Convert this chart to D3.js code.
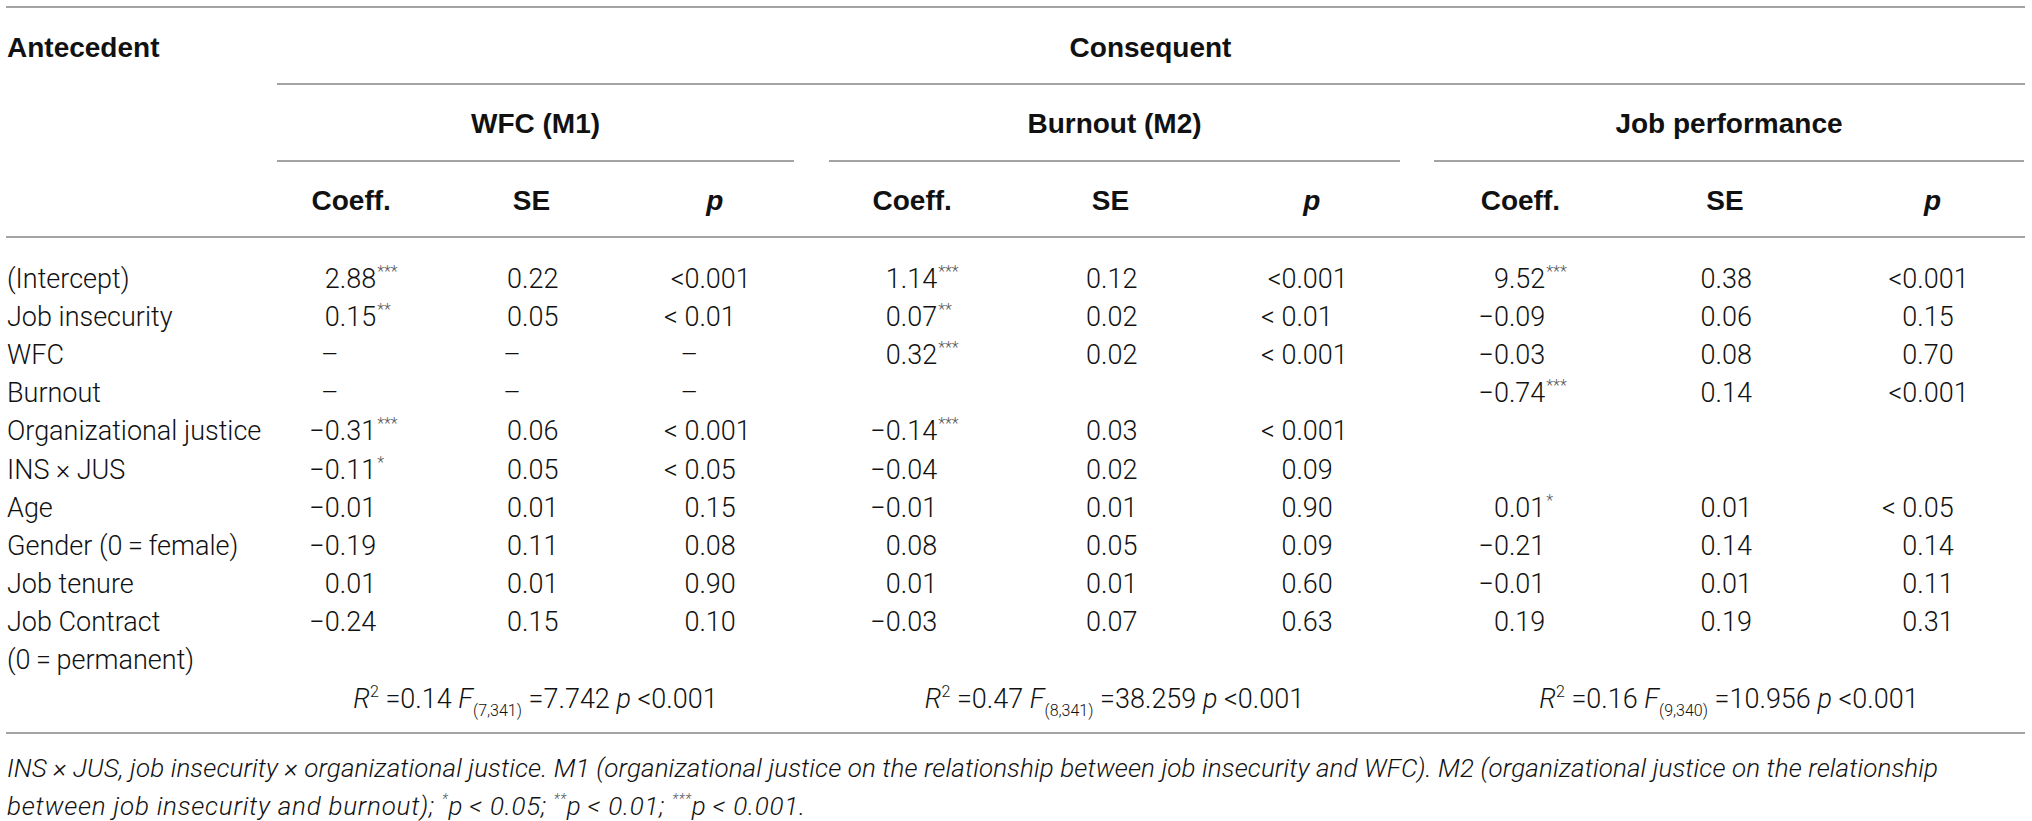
<!DOCTYPE html>
<html>
<head>
<meta charset="utf-8">
<script src="https://cdn.jsdelivr.net/npm/d3@7"></script>
<style>
  html, body { margin: 0; padding: 0; background: #fff; }
  svg text { fill: #111; }
  .body { font-family: Roboto, "Liberation Sans", sans-serif; font-weight: 300; font-size: 27px; }
  .head { font-family: "Liberation Sans", Arial, sans-serif; font-weight: bold; font-size: 28px; }
  .note { font-family: Roboto, "Liberation Sans", sans-serif; font-weight: 300; font-style: italic; font-size: 26px; }
</style>
</head>
<body>
<div id="chart"></div>
<script>

// table content
var antecedents = ["(Intercept)", "Job insecurity", "WFC", "Burnout", "Organizational justice",
	"INS \u00d7 JUS", "Age", "Gender (0\u2009=\u2009female)", "Job tenure", "Job Contract"];
var antecedentExtra = "(0\u2009=\u2009permanent)";

var models = ["WFC (M1)", "Burnout (M2)", "Job performance"];
var subHeads = ["Coeff.", "SE", "p"];

var wfcCoeff = ["2.88", "0.15", "\u2013", "\u2013", "\u22120.31", "\u22120.11", "\u22120.01", "\u22120.19", "0.01", "\u22120.24"];
var wfcStars = [3, 2, 0, 0, 3, 1, 0, 0, 0, 0];
var wfcSE    = ["0.22", "0.05", "\u2013", "\u2013", "0.06", "0.05", "0.01", "0.11", "0.01", "0.15"];
var wfcP     = ["<0.001", "< 0.01", "\u2013", "\u2013", "< 0.001", "< 0.05", "0.15", "0.08", "0.90", "0.10"];

var burnCoeff = ["1.14", "0.07", "0.32", "", "\u22120.14", "\u22120.04", "\u22120.01", "0.08", "0.01", "\u22120.03"];
var burnStars = [3, 2, 3, 0, 3, 0, 0, 0, 0, 0];
var burnSE    = ["0.12", "0.02", "0.02", "", "0.03", "0.02", "0.01", "0.05", "0.01", "0.07"];
var burnP     = ["<0.001", "< 0.01", "< 0.001", "", "< 0.001", "0.09", "0.90", "0.09", "0.60", "0.63"];

var jobCoeff = ["9.52", "\u22120.09", "\u22120.03", "\u22120.74", "", "", "0.01", "\u22120.21", "\u22120.01", "0.19"];
var jobStars = [3, 0, 0, 3, 0, 0, 1, 0, 0, 0];
var jobSE    = ["0.38", "0.06", "0.08", "0.14", "", "", "0.01", "0.14", "0.01", "0.19"];
var jobP     = ["<0.001", "0.15", "0.70", "<0.001", "", "", "< 0.05", "0.14", "0.11", "0.31"];

var r2Vals = ["0.14", "0.47", "0.16"];
var fDf    = ["7,341", "8,341", "9,340"];
var fVals  = ["7.742", "38.259", "10.956"];

var noteLine1 = "INS \u00d7 JUS, job insecurity \u00d7 organizational justice. M1 (organizational justice on the relationship between job insecurity and WFC). M2 (organizational justice on the relationship";
var noteLine2 = [["", "between job insecurity and burnout); "], ["*", "p\u2009< 0.05;  "], ["**", "p\u2009< 0.01;  "], ["***", "p\u2009< 0.001."]];


var width = 2032, height = 821;
var left = 6, right = 2025;

var svg = d3.select("#chart").append("svg")
	.attr("width", width)
	.attr("height", height);

svg.append("rect").attr("width", width).attr("height", height).attr("fill", "#fff");

var ruleAttr = { "stroke": "#a3a3a3", "stroke-width": 2 };

function rule(x1, x2, y)
{
	svg.append("line")
		.attr("x1", x1).attr("x2", x2)
		.attr("y1", y).attr("y2", y)
		.attr("stroke", ruleAttr.stroke)
		.attr("stroke-width", ruleAttr["stroke-width"]);
}

// group spans of the three consequent models
var groupSpan = [[277, 794], [829, 1400], [1434, 2024]];
var groupData = [
	{ coeff: wfcCoeff, stars: wfcStars, se: wfcSE, p: wfcP },
	{ coeff: burnCoeff, stars: burnStars, se: burnSE, p: burnP },
	{ coeff: jobCoeff, stars: jobStars, se: jobSE, p: jobP }
];

var colScales = groupSpan.map(function(s)
{
	return d3.scaleBand().domain(subHeads).range(s);
});

function colCenter(g, key)
{
	var sc = colScales[g];
	return sc(key) + sc.bandwidth() / 2;
}

// rows: 10 antecedents, the wrapped contract label, fit line
var rowKeys = d3.range(12);
var y = d3.scaleBand().domain(rowKeys).range([259, 717]);
function rowY(i) { return y(i) + y.bandwidth() / 2; }

var base = 0.36; // em offset from visual centre to baseline
var supUp = 11;  // px raise for superscripts
var subDown = 8; // px drop for subscripts

// measure a two digit fraction for decimal alignment
var probe = svg.append("text").attr("class", "body").text(".00");
var fracW = probe.node().getComputedTextLength();
probe.remove();

// column offsets relative to band centre: header pos, right edge of 2-decimal number
var colLayout = {
	"Coeff.": { head: -12, edge: 13 },
	"SE":     { head: -4,  edge: 23 },
	"p":      { head: 7,   edge: 28 }
};

// rules
rule(left, right, 7);
rule(groupSpan[0][0], right, 84);
groupSpan.forEach(function(s) { rule(s[0], s[1], 161); });
rule(left, right, 237);
rule(left, right, 733);

// top headers
svg.append("text").attr("class", "head")
	.attr("x", 7).attr("y", 47).attr("dy", base + "em")
	.text("Antecedent");

svg.append("text").attr("class", "head")
	.attr("x", (groupSpan[0][0] + groupSpan[2][1]) / 2).attr("y", 47).attr("dy", base + "em")
	.attr("text-anchor", "middle")
	.text("Consequent");

svg.selectAll(".model")
	.data(models)
	.enter().append("text")
	.attr("class", "head model")
	.attr("x", function(d, i) { return (groupSpan[i][0] + groupSpan[i][1]) / 2; })
	.attr("y", 123).attr("dy", base + "em")
	.attr("text-anchor", "middle")
	.text(function(d) { return d; });

models.forEach(function(m, g)
{
	subHeads.forEach(function(h)
	{
		svg.append("text").attr("class", "head")
			.attr("x", colCenter(g, h) + colLayout[h].head)
			.attr("y", 200).attr("dy", base + "em")
			.attr("text-anchor", "middle")
			.style("font-style", h == "p" ? "italic" : "normal")
			.text(h);
	});
});

// antecedent labels
svg.selectAll(".label")
	.data(antecedents.concat([antecedentExtra]))
	.enter().append("text")
	.attr("class", "body label")
	.attr("x", 7)
	.attr("y", function(d, i) { return rowY(i); })
	.attr("dy", base + "em")
	.text(function(d) { return d; });

// decimal aligned cell
function cell(val, stars, g, key, i)
{
	if (!val)
		return;

	var cx = colCenter(g, key);
	var edge = cx + colLayout[key].edge;
	var dotX = edge - fracW;
	var yy = rowY(i);

	if (val.indexOf(".") < 0)
	{
		// dash: centred on the number body
		svg.append("text").attr("class", "body")
			.attr("x", edge - fracW - 10).attr("y", yy).attr("dy", base + "em")
			.attr("text-anchor", "middle")
			.text(val);
		return;
	}

	var k = val.indexOf(".");
	svg.append("text").attr("class", "body")
		.attr("x", dotX).attr("y", yy).attr("dy", base + "em")
		.attr("text-anchor", "end")
		.text(val.slice(0, k));

	var t = svg.append("text").attr("class", "body")
		.attr("x", dotX).attr("y", yy).attr("dy", base + "em")
		.text(val.slice(k));

	if (stars > 0)
	{
		t.append("tspan")
			.attr("dy", -supUp)
			.attr("dx", 1)
			.style("font-size", "16px")
			.style("fill", "#555")
			.text(d3.range(stars).map(function() { return "*"; }).join(""));
	}
}

groupData.forEach(function(gd, g)
{
	antecedents.forEach(function(a, i)
	{
		cell(gd.coeff[i], gd.stars[i], g, "Coeff.", i);
		cell(gd.se[i], 0, g, "SE", i);
		cell(gd.p[i], 0, g, "p", i);
	});
});

// model fit line
r2Vals.forEach(function(r, g)
{
	var t = svg.append("text").attr("class", "body")
		.attr("x", (groupSpan[g][0] + groupSpan[g][1]) / 2)
		.attr("y", rowY(11)).attr("dy", base + "em")
		.attr("text-anchor", "middle");

	t.append("tspan").style("font-style", "italic").text("R");
	t.append("tspan").attr("dy", -supUp).style("font-size", "16px").text("2");
	t.append("tspan").attr("dy", supUp).text(" =" + r + " ");
	t.append("tspan").style("font-style", "italic").text("F");
	t.append("tspan").attr("dy", subDown).style("font-size", "16px").text("(" + fDf[g] + ")");
	t.append("tspan").attr("dy", -subDown).text(" =" + fVals[g] + " ");
	t.append("tspan").style("font-style", "italic").text("p");
	t.append("tspan").text(" <0.001");
});

// footnote
svg.append("text").attr("class", "note")
	.attr("x", 7).attr("y", 768).attr("dy", base + "em")
	.attr("textLength", 1931)
	.attr("lengthAdjust", "spacing")
	.text(noteLine1);

var n2 = svg.append("text").attr("class", "note")
	.attr("x", 7).attr("y", 806).attr("dy", base + "em")
	.attr("textLength", 798)
	.attr("lengthAdjust", "spacing");

noteLine2.forEach(function(part)
{
	if (part[0])
	{
		n2.append("tspan").attr("dy", -supUp).style("font-size", "14px").style("fill", "#555").text(part[0]);
		n2.append("tspan").attr("dy", supUp).text(part[1]);
	}
	else
		n2.append("tspan").text(part[1]);
});

</script>
</body>
</html>
